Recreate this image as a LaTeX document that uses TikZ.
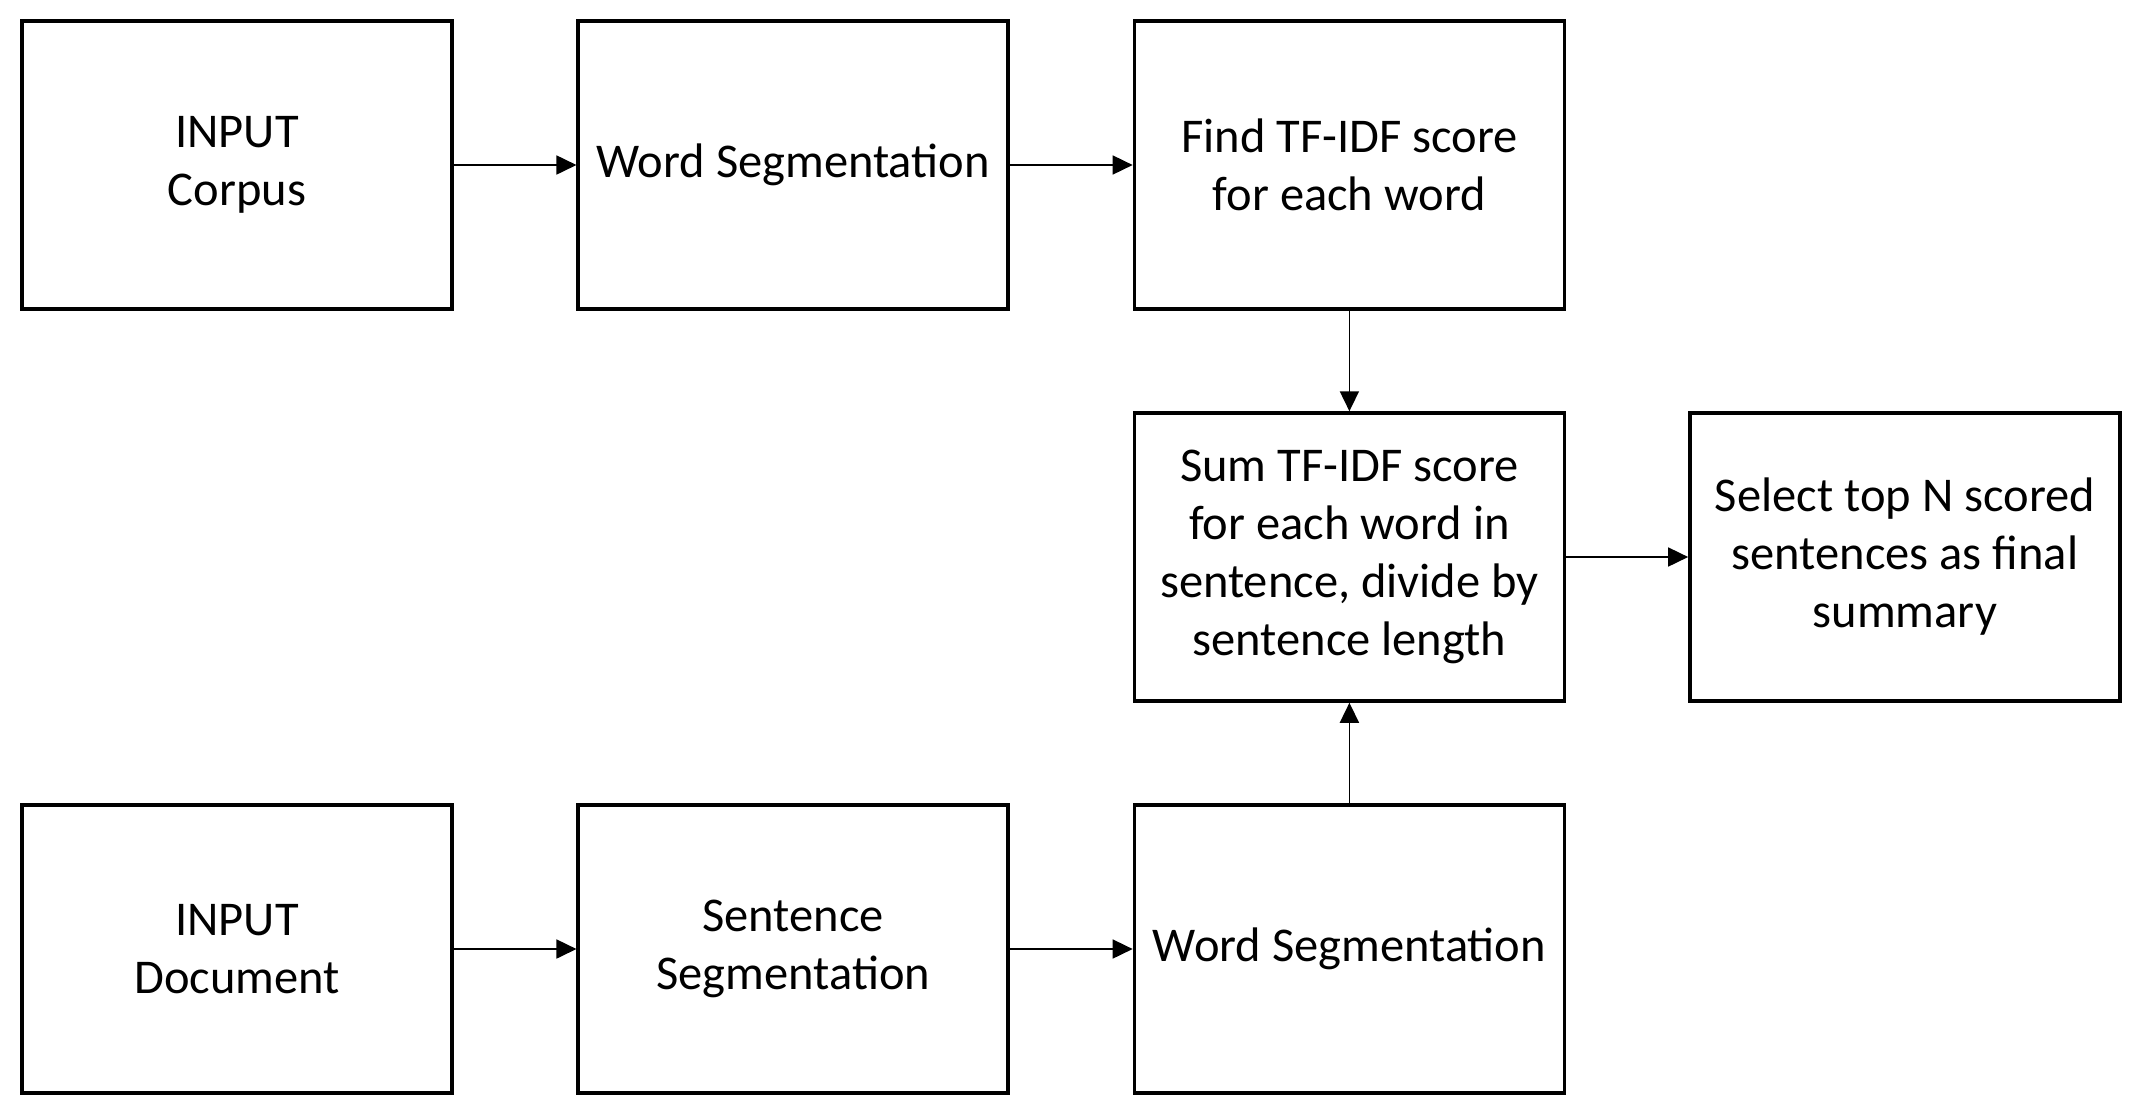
\documentclass[tikz,border=0pt]{standalone}
\usepackage{fontspec}
\setmainfont{Carlito}
\usetikzlibrary{arrows.meta}

\begin{document}
\begin{tikzpicture}[box/.style={draw,line width=1pt,minimum width=4.30cm,minimum height=2.88cm,
                      align=center,font=\fontsize{13.8}{16.5}\selectfont},
                    stream/.style={-{Triangle[length=2mm,width=1.9mm]},line width=0.5pt}]
    \useasboundingbox (0,0) rectangle (21.48,-11.14);
    %corpus row
    \node[box] (corpus) at (2.37,-1.65) {INPUT\\Corpus};
    \node[box] (wordseg1) at (7.932,-1.65) {Word Segmentation};
    \node[box] (tfidf) at (13.494,-1.65) {Find TF-IDF score\\for each word};
    %scoring
    \node[box] (sum) at (13.494,-5.57) {Sum TF-IDF score\\for each word in\\sentence, divide by\\sentence length};
    \node[box] (select) at (19.049,-5.57) {Select top N scored\\sentences as final\\summary};
    %document row
    \node[box] (doc) at (2.37,-9.49) {INPUT\\Document};
    \node[box] (sentseg) at (7.932,-9.49) {Sentence\\Segmentation};
    \node[box] (wordseg2) at (13.494,-9.49) {Word Segmentation};

    \draw[stream] (corpus) -- (wordseg1);
    \draw[stream] (wordseg1) -- (tfidf);
    \draw[stream] (tfidf) -- (sum);
    \draw[stream] (sum) -- (select);
    \draw[stream] (doc) -- (sentseg);
    \draw[stream] (sentseg) -- (wordseg2);
    \draw[stream] (wordseg2) -- (sum);
  \end{tikzpicture}
\end{document}
